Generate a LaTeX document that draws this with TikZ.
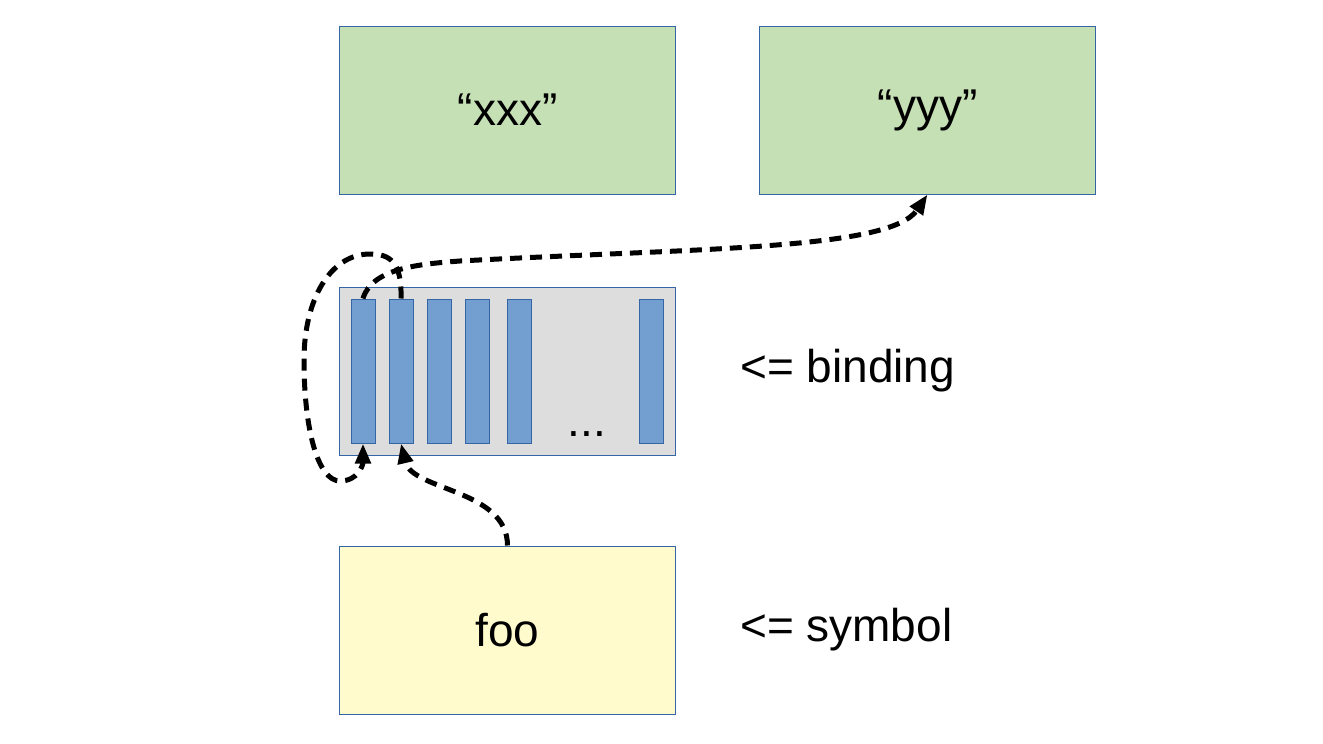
\documentclass[tikz,border=0pt]{standalone}
\usepackage{fontspec}
\setmainfont{Liberation Sans}
\usetikzlibrary{positioning,arrows.meta}
\definecolor{strgreen}{HTML}{C5E0B4}
\definecolor{symyellow}{HTML}{FFFBCC}
\definecolor{bindgrey}{HTML}{DDDDDD}
\definecolor{slotblue}{HTML}{729FCF}
\definecolor{edgeblue}{HTML}{3465A4}
\begin{document}
\begin{tikzpicture}[x=1pt,y=-1pt,
  node distance=92pt and 83pt,
  every node/.style={font=\fontsize{46}{55}\selectfont},
  box/.style={rectangle,draw=edgeblue,line width=1pt,minimum width=336pt,minimum height=168pt,inner sep=0pt},
  slot/.style={rectangle,draw=edgeblue,line width=1pt,fill=slotblue,minimum width=24pt,minimum height=144pt,inner sep=0pt},
  ptr/.style={-{Triangle[length=20pt,width=15pt]},line width=5pt,dash pattern=on 12pt off 8pt}]
\useasboundingbox (0,0) rectangle (1323,744);
\node[box,fill=strgreen] (xxx) at (507.5,110) {“xxx”};
\node[box,fill=strgreen,right=of xxx] (yyy) {“yyy”};
\node[box,fill=bindgrey,below=of xxx] (bind) {};
\node[box,fill=symyellow,below=90pt of bind] (foo) {foo};
\foreach \dx [count=\i] in {-144.5,-106.5,-68.5,-30.5,11.5,143.5}
  \node[slot] (slot\i) at ([xshift=\dx pt]bind.center) {};
\node[anchor=base] (dots) at (587,436) {...};
\node[anchor=west,inner sep=0pt,right=64pt of bind] (bindlbl) {<= binding};
\node[anchor=west,inner sep=0pt,right=64pt of foo] (symlbl) {<= symbol};
\draw[ptr] (foo.north) .. controls +(0,-56) and +(11,47) .. (slot2.south);
\draw[ptr] (slot2.north) .. controls (402,262) and (390,254) .. (370,254)
  .. controls (330,254) and (304,300) .. (304,360)
  .. controls (304,430) and (318,481) .. (340,481)
  .. controls (358,481) and (363,465) .. (slot1.south);
\draw[ptr] (slot1.north) .. controls (372,268) and (420,264) .. (460,261)
  .. controls (700,248) and (890,250) .. (yyy.south);
\end{tikzpicture}
\end{document}
